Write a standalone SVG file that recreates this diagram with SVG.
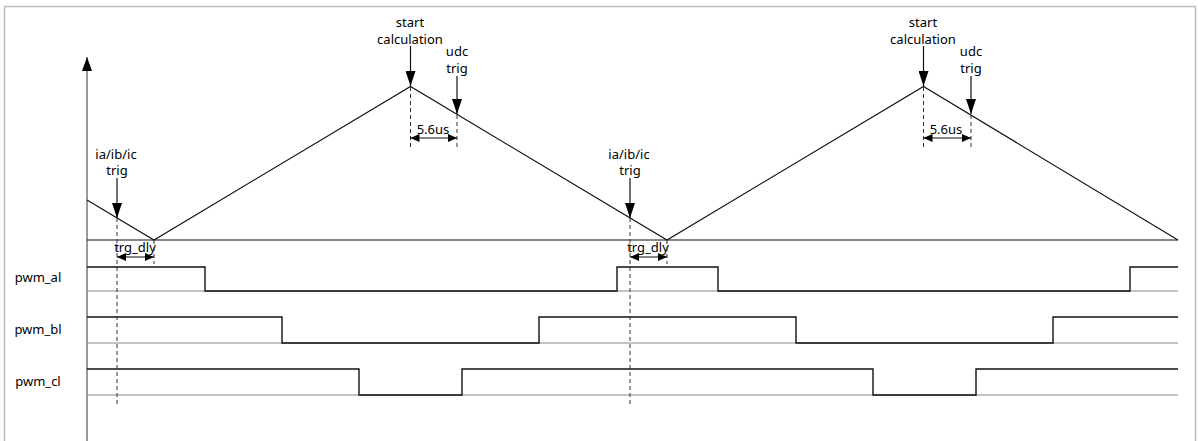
<svg xmlns="http://www.w3.org/2000/svg" width="1198" height="441" viewBox="0 0 1198 441">
<style>
text{font-family:"Noto Sans","Liberation Sans",sans-serif;font-size:13px;fill:#000;text-anchor:middle}
.wave{fill:none;stroke:#111;stroke-width:1.4}
.ref{fill:none;stroke:#888;stroke-width:1.2}
.tri{fill:none;stroke:#111;stroke-width:1.1}
.dash{fill:none;stroke:#333;stroke-width:1;stroke-dasharray:4 3}
.arr{fill:none;stroke:#111;stroke-width:1.2}
</style>
<defs>
<marker id="down" markerWidth="16" markerHeight="10" refX="15" refY="5" orient="auto" markerUnits="userSpaceOnUse" viewBox="0 0 16 10">
<path d="M0,0 L15,5 L0,10 Z" fill="#000"/>
</marker>
<marker id="ah" markerWidth="9" markerHeight="8" refX="9" refY="4" orient="auto-start-reverse" markerUnits="userSpaceOnUse" viewBox="0 0 9 8">
<path d="M0,0 L9,4 L0,8 Z" fill="#000"/>
</marker>
<marker id="up" markerWidth="16" markerHeight="12" refX="15" refY="6" orient="auto" markerUnits="userSpaceOnUse" viewBox="0 0 16 12">
<path d="M1,1 L15,6 L1,11 Z" fill="#000"/>
</marker>
</defs>
<rect x="4.5" y="6.5" width="1191" height="440" fill="#fff" stroke="#bbb" stroke-width="1.5"/>

<g id="axis">
<line x1="87" y1="441" x2="87" y2="57" stroke="#777" stroke-width="1.5" marker-end="url(#up)"/>
<line x1="87" y1="240" x2="1178" y2="240" stroke="#111" stroke-width="1.2"/>
</g>

<g id="carrier">
<polyline class="tri" points="87,200 154,240 410.5,86.5 667,240 923.5,86.5 1178,240"/>
</g>

<g id="pwm_al">
<text x="38" y="282">pwm_al</text>
<line class="ref" x1="87" y1="291" x2="1178" y2="291"/>
<polyline class="wave" points="87,267 205,267 205,291 617,291 617,267 718,267 718,291 1130,291 1130,267 1178,267"/>
</g>
<g id="pwm_bl">
<text x="38" y="334">pwm_bl</text>
<line class="ref" x1="87" y1="343" x2="1178" y2="343"/>
<polyline class="wave" points="87,317 282,317 282,343 539,343 539,317 796,317 796,343 1053,343 1053,317 1178,317"/>
</g>
<g id="pwm_cl">
<text x="38" y="386">pwm_cl</text>
<line class="ref" x1="87" y1="395" x2="1178" y2="395"/>
<polyline class="wave" points="87,369 359,369 359,395 462,395 462,369 873,369 873,395 976,395 976,369 1178,369"/>
</g>

<g id="trig1">
<text x="116" y="159">ia/ib/ic</text>
<text x="117" y="175">trig</text>
</g>
<g id="trg_dly1">
<text x="135" y="252">trg_dly</text>
</g>
<g id="start1">
<text x="410" y="27">start</text>
<text x="410" y="44">calculation</text>
</g>
<g id="udc1">
<text x="457" y="56">udc</text>
<text x="457" y="73">trig</text>
</g>
<g id="dt1">
<text x="433" y="134">5.6us</text>
</g>
<g id="trig2">
<text x="629" y="159">ia/ib/ic</text>
<text x="630" y="175">trig</text>
</g>
<g id="trg_dly2">
<text x="648" y="252">trg_dly</text>
</g>
<g id="start2">
<text x="923" y="27">start</text>
<text x="923" y="44">calculation</text>
</g>
<g id="udc2">
<text x="971" y="56">udc</text>
<text x="971" y="73">trig</text>
</g>
<g id="dt2">
<text x="946" y="134">5.6us</text>
</g>

<g id="connectors">
<line class="arr" x1="117" y1="178" x2="117" y2="218" marker-end="url(#down)"/>
<line class="dash" x1="117" y1="218" x2="117" y2="407"/>
<line class="dash" x1="154" y1="240" x2="154" y2="264"/>
<line class="arr" x1="117" y1="257" x2="154" y2="257" marker-start="url(#ah)" marker-end="url(#ah)"/>

<line class="arr" x1="410.5" y1="46" x2="410.5" y2="86" marker-end="url(#down)"/>
<line class="dash" x1="410.5" y1="87" x2="410.5" y2="148"/>
<line class="arr" x1="457" y1="76" x2="457" y2="114" marker-end="url(#down)"/>
<line class="dash" x1="457" y1="115" x2="457" y2="148"/>
<line class="arr" x1="410.5" y1="138" x2="457" y2="138" marker-start="url(#ah)" marker-end="url(#ah)"/>

<line class="arr" x1="630" y1="178" x2="630" y2="218" marker-end="url(#down)"/>
<line class="dash" x1="630" y1="218" x2="630" y2="407"/>
<line class="dash" x1="667" y1="240" x2="667" y2="264"/>
<line class="arr" x1="630" y1="257" x2="667" y2="257" marker-start="url(#ah)" marker-end="url(#ah)"/>

<line class="arr" x1="923.5" y1="46" x2="923.5" y2="86" marker-end="url(#down)"/>
<line class="dash" x1="923.5" y1="87" x2="923.5" y2="148"/>
<line class="arr" x1="971" y1="76" x2="971" y2="114" marker-end="url(#down)"/>
<line class="dash" x1="971" y1="115" x2="971" y2="148"/>
<line class="arr" x1="923.5" y1="138" x2="971" y2="138" marker-start="url(#ah)" marker-end="url(#ah)"/>
</g>
</svg>
